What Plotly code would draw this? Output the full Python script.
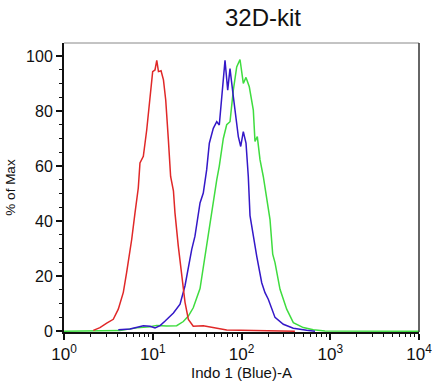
import plotly.graph_objects as go

title_text = "32D-kit"
x_title = "Indo 1 (Blue)-A"
y_title = "% of Max"

red_x = [2.14, 2.54, 3.03, 3.59, 4.09, 4.66, 5.08, 5.79, 6.31, 6.87, 7.18, 7.83, 8.55, 9.31,
         9.98, 10.6, 11.1, 11.6, 12.4, 13.2, 14.0, 15.0, 15.9, 17.1, 17.8, 19.4, 21.2, 23.1,
         25.2, 28.6, 37.1, 44.2, 52.6, 68.1, 400]
red_y = [0.3, 1.3, 2.9, 4.3, 8.0, 14.1, 21.4, 33.3, 43.0, 52.0, 61.1, 63.5, 73.1, 84.0,
         94.3, 94.9, 98.4, 94.3, 94.6, 91.3, 84.0, 69.5, 56.2, 51.0, 43.0, 30.9, 20.0, 10.5,
         4.3, 1.8, 2.0, 1.6, 1.1, 0.4, 0.0]

blue_x = [4.09, 5.54, 7.83, 9.31, 10.6, 12.1, 13.7, 17.1, 20.3, 23.1, 27.5, 29.9, 34.1, 37.1,
          40.5, 43.4, 48.1, 52.6, 56.2, 59.8, 62.4, 65.2, 69.9, 74.2, 80.9, 86.7, 92.1, 98.0,
          104.8, 112.4, 119.3, 124.7, 135.9, 148.4, 169.0, 184.0, 200.4, 238.5, 296, 383.6,
          543, 673]
blue_y = [0.5, 0.8, 2.0, 1.8, 1.2, 2.0, 3.6, 6.6, 9.8, 16.5, 29.7, 34.5, 46.6, 50.2,
          58.6, 68.3, 73.7, 76.1, 74.9, 84.0, 92.4, 98.4, 87.6, 95.4, 85.2, 76.7, 70.7, 67.1,
          72.5, 68.3, 56.2, 42.0, 34.5, 27.3, 17.6, 14.0, 11.6, 5.0, 2.5, 1.1,
          0.3, 0.0]

green_x = [1, 4.27, 6.59, 9.31, 11.1, 14.4, 18.6, 22.1, 25.2, 28.6, 34.1, 40.5, 44.2, 48.1,
           52.6, 56.2, 62.4, 68.1, 74.2, 80.9, 88.3, 96.2, 104.8, 112.4, 122.4, 135.9, 141.9,
           150.7, 161.6, 176.0, 192.3, 209.6, 224.7, 238.5, 271.6, 323, 383.6, 497, 644, 872,
           10000]
green_y = [0.0, 0.2, 1.2, 1.6, 2.1, 1.9, 2.0, 3.5, 5.5, 8.5, 15.5, 30.9, 39.3, 48.0,
           55.0, 60.0, 70.0, 75.0, 76.1, 87.6, 96.0, 98.7, 90.0, 92.2, 88.8, 80.3, 68.9,
           70.7, 62.3, 56.2, 49.0, 40.5, 28.0, 24.9, 15.2, 8.0, 3.1, 1.3, 0.5, 0.1,
           0.0]

x_tick_vals = [1, 10, 100, 1000, 10000]
x_tick_text = ["10<sup>0</sup>", "10<sup>1</sup>", "10<sup>2</sup>", "10<sup>3</sup>", "10<sup>4</sup>"]
x_minor_vals = [k * 10 ** d for d in range(4) for k in range(2, 10)]
y_tick_vals = [0, 20, 40, 60, 80, 100]

FONT = "Liberation Sans, Arial, sans-serif"

fig = go.Figure()
fig.add_trace(go.Scatter(x=green_x, y=green_y, mode="lines",
                         line=dict(color="#3fdc3f", width=1.5), hoverinfo="skip"))
fig.add_trace(go.Scatter(x=blue_x, y=blue_y, mode="lines",
                         line=dict(color="#3418c8", width=1.5), hoverinfo="skip"))
fig.add_trace(go.Scatter(x=red_x, y=red_y, mode="lines",
                         line=dict(color="#e02828", width=1.5), hoverinfo="skip"))

fig.update_layout(
    width=440, height=381,
    margin=dict(l=64, r=21, t=43, b=49, autoexpand=False),
    paper_bgcolor="white", plot_bgcolor="white",
    showlegend=False,
    font=dict(family=FONT, color="#111111", size=16),
    title=dict(text=title_text, x=263 / 440, xanchor="center", y=1 - 18 / 381, yanchor="middle",
               font=dict(family=FONT, size=24, color="#111111")),
    xaxis=dict(
        type="log", range=[0, 4],
        tickmode="array", tickvals=x_tick_vals, ticktext=x_tick_text,
        ticks="outside", ticklen=6, tickwidth=1.5, tickcolor="#111111",
        minor=dict(tickvals=x_minor_vals, ticks="outside", ticklen=3, tickwidth=1, tickcolor="#111111"),
        showgrid=False, zeroline=False,
        showline=True, linecolor="#111111", linewidth=2,
        tickfont=dict(family=FONT, size=17, color="#111111"),
        title=dict(text=x_title, font=dict(family=FONT, size=15, color="#111111"), standoff=2),
        layer="below traces", automargin=False,
    ),
    yaxis=dict(
        range=[-0.3, 104.7],
        tickmode="array", tickvals=y_tick_vals,
        ticks="outside", ticklen=6, tickwidth=1.5, tickcolor="#111111",
        minor=dict(dtick=5, tick0=0, ticks="outside", ticklen=3, tickwidth=1, tickcolor="#111111"),
        showgrid=False, zeroline=False,
        showline=True, linecolor="#111111", linewidth=2,
        tickfont=dict(family=FONT, size=16, color="#111111"),
        title=dict(text=y_title, font=dict(family=FONT, size=13.5, color="#111111"), standoff=7),
        layer="below traces", automargin=False,
    ),
    shapes=[
        dict(type="line", xref="paper", yref="paper", x0=0, x1=1, y0=1, y1=1,
             line=dict(color="#888888", width=1)),
        dict(type="line", xref="paper", yref="paper", x0=1, x1=1, y0=0, y1=1,
             line=dict(color="#333333", width=1.5)),
    ],
)

fig.write_html("out.html", config={"displayModeBar": False},
               post_script="document.body.style.margin='0';")
